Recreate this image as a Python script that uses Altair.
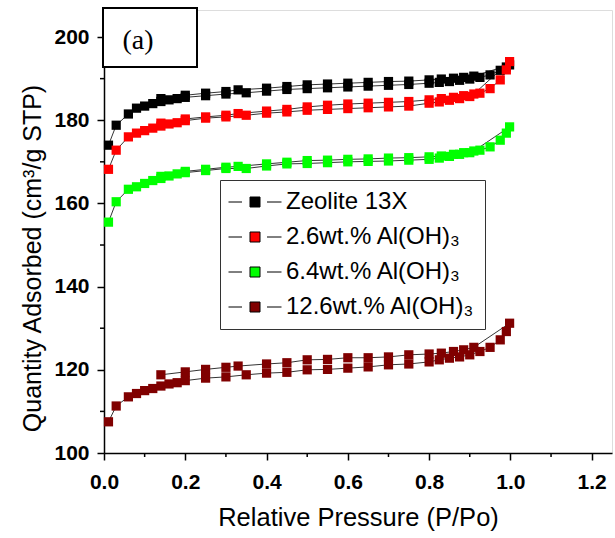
import altair as alt
import pandas as pd

series_names = ["Zeolite 13X", "2.6wt.% Al(OH)₃", "6.4wt.% Al(OH)₃", "12.6wt.% Al(OH)₃"]
series_colors = ["#000000", "#ff0000", "#00ff00", "#800000"]

# relative pressure, adsorption branch and desorption branch
p_ads = [0.011, 0.03, 0.06, 0.08, 0.10, 0.12, 0.14, 0.16, 0.18, 0.20, 0.25, 0.30, 0.35, 0.40,
         0.45, 0.50, 0.55, 0.60, 0.65, 0.70, 0.75, 0.80, 0.825, 0.85, 0.875, 0.90, 0.925, 0.95,
         0.975, 0.99, 0.998]
p_des = [0.91, 0.885, 0.86, 0.83, 0.80, 0.75, 0.70, 0.65, 0.60, 0.55, 0.50, 0.45, 0.40, 0.33,
         0.30, 0.25, 0.20, 0.14]

q_ads_13x = [174.0, 178.8, 181.5, 182.9, 183.4, 184.0, 184.5, 184.9, 185.2, 185.5, 185.9, 186.3,
             186.6, 187.0, 187.4, 187.6, 187.8, 188.0, 188.2, 188.4, 188.6, 188.9, 189.1, 189.3,
             189.6, 189.9, 190.3, 190.9, 192.0, 192.8, 193.3]
q_des_13x = [190.6, 190.3, 190.1, 189.9, 189.7, 189.4, 189.3, 189.1, 188.9, 188.7, 188.5, 188.1,
             187.7, 187.3, 186.9, 186.5, 186.0, 185.2]

q_ads_26 = [168.2, 172.8, 176.0, 176.9, 177.5, 178.1, 178.6, 179.1, 179.4, 179.9, 180.5, 180.8,
            181.2, 181.7, 182.0, 182.4, 182.6, 182.8, 183.0, 183.2, 183.4, 184.1, 184.4, 184.8,
            185.2, 185.7, 186.5, 187.6, 189.7, 192.1, 194.1]
q_des_26 = [186.3, 185.9, 185.5, 185.2, 184.9, 184.5, 184.3, 184.1, 183.9, 183.6, 183.2, 182.6,
            182.2, 181.6, 181.2, 180.8, 180.3, 179.3]

q_ads_64 = [155.5, 160.4, 163.4, 164.0, 164.8, 165.5, 166.0, 166.6, 167.1, 167.4, 167.9, 168.4,
            168.4, 169.0, 169.5, 169.6, 169.8, 170.0, 170.1, 170.2, 170.4, 170.6, 170.9, 171.3,
            171.8, 172.2, 172.8, 173.6, 175.2, 176.9, 178.4]
q_des_64 = [172.6, 172.2, 171.8, 171.4, 171.2, 171.0, 170.9, 170.7, 170.6, 170.4, 170.3, 169.9,
            169.5, 168.9, 168.7, 168.2, 167.7, 166.5]

q_ads_126 = [107.5, 111.3, 113.5, 114.3, 115.0, 115.5, 116.1, 116.6, 116.9, 117.4, 118.0, 118.3,
             118.8, 119.2, 119.4, 120.0, 120.1, 120.4, 120.7, 121.2, 121.4, 121.9, 122.4, 122.8,
             123.1, 123.6, 124.4, 125.4, 127.2, 129.2, 131.2]
q_des_126 = [125.4, 124.8, 124.4, 124.0, 123.8, 123.6, 123.1, 122.9, 122.9, 122.5, 122.4, 121.7,
             121.4, 120.9, 120.6, 120.1, 119.5, 118.8]

x_ticks = [0.0, 0.2, 0.4, 0.6, 0.8, 1.0, 1.2]
x_minor = [0.1, 0.3, 0.5, 0.7, 0.9, 1.1]
y_ticks = [100, 120, 140, 160, 180, 200]
y_minor = [110, 130, 150, 170, 190]

rows = []
for name, qa, qd in zip(series_names,
                        [q_ads_13x, q_ads_26, q_ads_64, q_ads_126],
                        [q_des_13x, q_des_26, q_des_64, q_des_126]):
    k = 0
    for p, q in zip(p_ads, qa):
        rows.append({"series": name, "p": p, "q": q, "order": k})
        k += 1
    for p, q in zip(p_des, qd):
        rows.append({"series": name, "p": p, "q": q, "order": k})
        k += 1
df = pd.DataFrame(rows)

W, H = 508, 443
FONT = "Liberation Sans"

x_scale = alt.Scale(domain=[0, 1.25], nice=False, zero=False)
y_scale = alt.Scale(domain=[100, 206.5], nice=False, zero=False)

x_axis = alt.Axis(values=x_ticks, format=".1f", title="Relative Pressure (P/Po)",
                  grid=False, tickSize=7, tickWidth=1.5, domainWidth=1.5,
                  domainColor="black", tickColor="black",
                  labelFont=FONT, labelFontWeight="bold", labelFontSize=21, labelColor="black",
                  labelPadding=11, titleFont=FONT, titleFontWeight="normal", titleFontSize=25.5,
                  titleColor="black", titlePadding=13, labelFlush=False)
y_axis = alt.Axis(values=y_ticks, format="d", title="Quantity Adsorbed (cm³/g STP)",
                  grid=False, tickSize=7, tickWidth=1.5, domainWidth=1.5,
                  domainColor="black", tickColor="black",
                  labelFont=FONT, labelFontWeight="bold", labelFontSize=21, labelColor="black",
                  labelPadding=8, titleFont=FONT, titleFontWeight="normal", titleFontSize=25,
                  titleColor="black", titlePadding=8, titleY=248, labelFlush=False)

legend_path = "M-2.65,0H-1.3M1.2,0H2.65M-0.5,-0.5H0.5V0.5H-0.5Z"

lines = alt.Chart(df).mark_line(color="black", strokeWidth=0.8).encode(
    x=alt.X("p:Q", scale=x_scale, axis=x_axis),
    y=alt.Y("q:Q", scale=y_scale, axis=y_axis),
    detail="series:N",
    order="order:Q",
)

points = alt.Chart(df).mark_square(size=85, opacity=1).encode(
    x=alt.X("p:Q", scale=x_scale),
    y=alt.Y("q:Q", scale=y_scale),
    color=alt.Color("series:N", scale=alt.Scale(domain=series_names, range=series_colors),
                    legend=alt.Legend(title=None, orient="none", legendX=116, legendY=170,
                                      symbolType=legend_path, symbolSize=400,
                                      symbolStrokeColor="black", symbolStrokeWidth=1,
                                      symbolOpacity=1, symbolOffset=13,
                                      labelFont=FONT, labelFontSize=24, labelColor="black",
                                      labelOffset=19, rowPadding=11, padding=10,
                                      strokeColor="#333333", fillColor="white",
                                      labelLimit=400)),
)

xm = alt.Chart(pd.DataFrame({"v": x_minor})).mark_rule(color="black", strokeWidth=1.5).encode(
    x=alt.X("v:Q", scale=x_scale), y=alt.value(H), y2=alt.value(H + 4))
ym = alt.Chart(pd.DataFrame({"v": y_minor})).mark_rule(color="black", strokeWidth=1.5).encode(
    y=alt.Y("v:Q", scale=y_scale), x=alt.value(0), x2=alt.value(-4))

tag = pd.DataFrame({"label": ["(a)"]})
tag_box = alt.Chart(tag).mark_rect(fill="white", stroke="black", strokeWidth=2).encode(
    x=alt.value(-1), x2=alt.value(93), y=alt.value(-2), y2=alt.value(57))
tag_text = alt.Chart(tag).mark_text(font="Liberation Serif", fontSize=28, color="black",
                                    align="center", baseline="middle").encode(
    x=alt.value(34), y=alt.value(31), text="label:N")

chart = alt.layer(lines, points, xm, ym, tag_box, tag_text).properties(
    width=W, height=H,
    autosize=alt.AutoSizeParams(type="none"),
    padding={"left": 104, "top": 10, "right": 3, "bottom": 85},
).configure_view(stroke=None).configure(background="white")

chart.save("out.html", embed_options={"renderer": "svg", "actions": False})
